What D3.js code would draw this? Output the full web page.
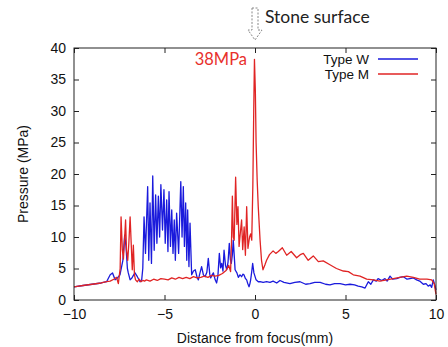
<!DOCTYPE html>
<html>
<head>
<meta charset="utf-8">
<script src="https://cdn.jsdelivr.net/npm/d3@7"></script>
<style>
  body { margin: 0; background: #fff; }
  svg { display: block; }
  .tick text { font-family: "Liberation Sans", Arial, sans-serif; font-size: 14px; fill: #111; }
</style>
</head>
<body>
<div id="chart"></div>
<script>
// x positions (mm) and pressure (MPa)
var typeWx = [-10, -9.5, -9, -8.5, -8.2, -8.0, -7.87, -7.73, -7.6, -7.46, -7.3, -7.2, -7.13, -7.05, -7.0, -6.9, -6.8, -6.72, -6.63, -6.5, -6.35, -6.26,
  -6.2, -6.13, -6.05, -5.93, -5.87, -5.8, -5.72, -5.65, -5.57, -5.49, -5.42, -5.34, -5.27, -5.2, -5.11, -5.03, -4.96, -4.88, -4.81, -4.75, -4.67, -4.6, -4.53, -4.46, -4.4, -4.33, -4.22, -4.1, -4.03, -3.96, -3.9, -3.83, -3.77, -3.72, -3.65, -3.59,
  -3.5, -3.4, -3.3, -3.2, -3.13, -3.05, -2.95, -2.85, -2.76, -2.66, -2.58, -2.5, -2.45, -2.38, -2.3, -2.2, -2.12, -2.05, -1.97, -1.9, -1.84, -1.77, -1.71, -1.63, -1.56, -1.49, -1.42, -1.36, -1.31, -1.25, -1.2,
  -1.1, -1.0, -0.92, -0.83, -0.74, -0.67, -0.61, -0.53, -0.46, -0.4, -0.33, -0.28, -0.24, -0.18, -0.13, -0.06, 0.06, 0.18, 0.28,
  0.45, 0.64, 0.83, 1.0, 1.2, 1.38, 1.6, 1.93, 2.2, 2.49, 2.8, 3.04, 3.3, 3.6, 3.9, 4.14, 4.4, 4.7, 5.0, 5.25, 5.5, 5.7, 5.9, 6.08, 6.26, 6.4, 6.54, 6.7, 6.8, 7.0, 7.18, 7.3, 7.46, 7.6, 7.83, 8.0, 8.2, 8.4, 8.56, 8.75, 8.93, 9.1, 9.3, 9.45, 9.57, 9.68, 9.76, 9.85, 9.93, 10];
var typeWy = [2.1, 2.3, 2.5, 2.7, 2.9, 4.0, 4.3, 3.2, 3.5, 4.0, 6.3, 10.3, 8.6, 5.0, 4.3, 3.2, 3.5, 3.9, 4.3, 3.7, 2.9, 3.2,
  5.0, 13.2, 7.4, 18.0, 6.3, 15.4, 5.8, 19.7, 7.9, 16.7, 9.0, 16.5, 10.0, 18.3, 11.1, 17.5, 9.0, 15.9, 7.7, 17.2, 8.5, 14.3, 7.4, 12.7, 6.3, 13.8, 7.4, 18.8, 10.0, 18.0, 8.5, 15.4, 6.3, 14.3, 5.3, 12.2,
  4.0, 4.6, 4.8, 3.6, 3.2, 4.2, 5.3, 4.0, 3.7, 4.4, 6.6, 4.1, 3.5, 3.9, 4.3, 3.2, 2.7, 3.8, 7.4, 5.1, 5.8, 4.6, 7.9, 5.5, 4.8, 6.0, 9.0, 6.4, 5.8, 7.2, 9.5,
  4.8, 4.3, 3.6, 4.0, 3.7, 4.1, 4.0, 3.4, 3.2, 2.6, 2.1, 2.6, 3.2, 4.5, 5.8, 4.3, 3.2, 2.9, 2.9,
  2.8, 2.9, 2.8, 3.0, 2.7, 3.1, 2.8, 2.6, 2.8, 2.9, 2.5, 2.6, 2.8, 2.8, 2.5, 2.4, 2.6, 2.6, 2.4, 2.5, 2.4, 2.2, 2.1, 1.9, 2.9, 2.5, 3.2, 3.0, 3.4, 3.1, 3.4, 3.0, 3.8, 3.3, 3.4, 3.6, 3.7, 3.3, 3.4, 3.5, 3.2, 3.0, 2.5, 2.6, 2.2, 2.4, 2.0, 3.2, 2.4, 1.6];

var typeMx = [-10, -9.5, -9, -8.5, -8.2, -8.0, -7.8, -7.65, -7.55, -7.45, -7.4, -7.33, -7.27, -7.2, -7.15, -7.1, -7.03, -6.97, -6.9, -6.84, -6.78, -6.72, -6.66, -6.6,
  -6.5, -6.4, -6.3, -6.2, -6.1, -6.0, -5.8, -5.6, -5.4, -5.2, -5.0, -4.8, -4.6, -4.4, -4.2, -4.0, -3.8, -3.6, -3.4, -3.2, -3.0, -2.8, -2.6, -2.4, -2.2, -2.0, -1.8, -1.6, -1.45,
  -1.35, -1.3, -1.25, -1.2, -1.15, -1.07, -1.0, -0.94, -0.88, -0.8, -0.74, -0.68, -0.6, -0.53, -0.46, -0.39, -0.3, -0.24, -0.18, -0.12, -0.07, -0.03, 0.02, 0.06, 0.12, 0.18, 0.28, 0.36, 0.44,
  0.55, 0.64, 0.8, 1.0, 1.15, 1.29, 1.51, 1.75, 2.0, 2.3, 2.5, 2.67, 2.94, 3.22, 3.5, 3.77, 4.14, 4.5, 4.88, 5.16, 5.43, 5.8, 6.17, 6.54, 6.9, 7.27, 7.64, 8.0, 8.38, 8.75, 9.1, 9.5, 9.76, 9.9, 10];
var typeMy = [2.1, 2.3, 2.5, 2.7, 2.9, 3.0, 3.3, 3.6, 2.6, 5.0, 13.2, 8.0, 6.5, 10.0, 12.7, 8.0, 6.3, 9.0, 13.2, 9.0, 4.8, 8.7, 4.0, 3.2,
  2.9, 3.3, 2.9, 3.1, 3.0, 3.2, 3.0, 3.3, 3.1, 3.4, 3.3, 3.2, 3.5, 3.3, 3.6, 3.4, 3.6, 3.4, 3.7, 3.5, 3.6, 3.8, 3.6, 3.9, 3.8, 3.9, 4.2, 4.7, 5.5,
  4.5, 9.0, 16.5, 10.0, 9.5, 19.5, 12.0, 14.8, 8.5, 11.0, 12.7, 8.0, 11.6, 7.1, 14.8, 8.2, 10.0, 10.5, 9.5, 18.0, 30.0, 38.2, 33.0, 25.0, 19.0, 14.8, 9.5, 6.3, 4.8,
  5.6, 6.3, 7.2, 7.8, 7.4, 7.7, 8.3, 7.1, 7.7, 6.7, 7.2, 7.4, 6.3, 7.0, 6.1, 6.2, 5.6, 5.0, 4.6, 4.5, 4.0, 3.8, 3.3, 3.2, 3.0, 3.2, 3.4, 3.6, 3.8, 3.6, 3.3, 3.3, 3.2, 2.6, 0.9];

var xTicks = [-10, -5, 0, 5, 10];
var yTicks = [0, 5, 10, 15, 20, 25, 30, 35, 40];
var series = [
  { name: "Type W", xs: typeWx, ys: typeWy, color: "#1a1adc" },
  { name: "Type M", xs: typeMx, ys: typeMy, color: "#e02424" }
];

var width = 448, height = 347;
var margin = { top: 48, right: 12, bottom: 47, left: 74 };
var w = width - margin.left - margin.right,
  h = height - margin.top - margin.bottom;

var svg = d3.select("#chart").append("svg")
  .attr("width", width)
  .attr("height", height);

var g = svg.append("g")
  .attr("transform", "translate(" + margin.left + "," + margin.top + ")");

var x = d3.scaleLinear().domain([-10, 10]).range([0, w]);
var y = d3.scaleLinear().domain([0, 40]).range([h, 0]);

// axes, ticks pointing inward, mirrored on top/right like gnuplot
g.append("g")
  .attr("transform", "translate(0," + h + ")")
  .call(d3.axisBottom(x).tickValues(xTicks).tickSizeInner(-5).tickSizeOuter(0).tickPadding(9))
  .call(function (s) { s.select(".domain").remove(); });
g.append("g")
  .call(d3.axisTop(x).tickValues(xTicks).tickSizeInner(-5).tickSizeOuter(0).tickFormat(""))
  .call(function (s) { s.select(".domain").remove(); });
g.append("g")
  .call(d3.axisLeft(y).tickValues(yTicks).tickSizeInner(-5).tickSizeOuter(0).tickPadding(8))
  .call(function (s) { s.select(".domain").remove(); });
g.append("g")
  .attr("transform", "translate(" + w + ",0)")
  .call(d3.axisRight(y).tickValues(yTicks).tickSizeInner(-5).tickSizeOuter(0).tickFormat(""))
  .call(function (s) { s.select(".domain").remove(); });

g.selectAll(".tick line").attr("stroke", "#222");

var line = d3.line()
  .x(function (d) { return x(d[0]); })
  .y(function (d) { return y(d[1]); });

series.forEach(function (s) {
  var pts = s.xs.map(function (v, i) { return [v, s.ys[i]]; });
  g.append("path")
    .datum(pts)
    .attr("fill", "none")
    .attr("stroke", s.color)
    .attr("stroke-width", 1.3)
    .attr("stroke-linejoin", "round")
    .attr("d", line);
});

// frame
g.append("rect")
  .attr("width", w)
  .attr("height", h)
  .attr("fill", "none")
  .attr("stroke", "#222")
  .attr("stroke-width", 1);

// legend
var legend = g.append("g").attr("font-family", "'Liberation Sans', Arial, sans-serif").attr("font-size", 13.5);
series.forEach(function (s, i) {
  var ly = 11 + i * 15;
  legend.append("text")
    .attr("x", 295)
    .attr("y", ly)
    .attr("dy", "0.35em")
    .attr("text-anchor", "end")
    .attr("fill", "#111")
    .text(s.name);
  legend.append("line")
    .attr("x1", 304).attr("x2", 344)
    .attr("y1", ly).attr("y2", ly)
    .attr("stroke", s.color)
    .attr("stroke-width", 1.3);
});

// axis titles
svg.append("text")
  .attr("x", margin.left + w / 2)
  .attr("y", 338)
  .attr("dy", "0.35em")
  .attr("text-anchor", "middle")
  .attr("font-family", "'Liberation Sans', Arial, sans-serif")
  .attr("font-size", 14)
  .attr("fill", "#111")
  .text("Distance from focus(mm)");
svg.append("text")
  .attr("transform", "translate(23," + (margin.top + h / 2) + ") rotate(-90)")
  .attr("dy", "0.35em")
  .attr("text-anchor", "middle")
  .attr("font-family", "'Liberation Sans', Arial, sans-serif")
  .attr("font-size", 14)
  .attr("fill", "#111")
  .text("Pressure (MPa)");

// annotations
var peakX = x(0) + margin.left;
svg.append("path")
  .attr("d", "M" + (peakX - 3) + ",8 L" + (peakX + 3) + ",8 L" + (peakX + 3) + ",30 L" + (peakX + 7) + ",30 L" + peakX + ",40 L" + (peakX - 7) + ",30 L" + (peakX - 3) + ",30 Z")
  .attr("fill", "none")
  .attr("stroke", "#888")
  .attr("stroke-width", 1)
  .attr("stroke-dasharray", "2,1.5");
svg.append("text")
  .attr("x", peakX + 10)
  .attr("y", 17)
  .attr("dy", "0.35em")
  .attr("font-family", "Lato, 'Open Sans', sans-serif")
  .attr("font-size", 17.5)
  .attr("fill", "#222")
  .text("Stone surface");
svg.append("text")
  .attr("x", peakX - 8)
  .attr("y", 59)
  .attr("dy", "0.35em")
  .attr("text-anchor", "end")
  .attr("font-family", "Lato, 'Open Sans', sans-serif")
  .attr("font-size", 16.5)
  .attr("fill", "#e8302c")
  .text("38MPa");
</script>
</body>
</html>
